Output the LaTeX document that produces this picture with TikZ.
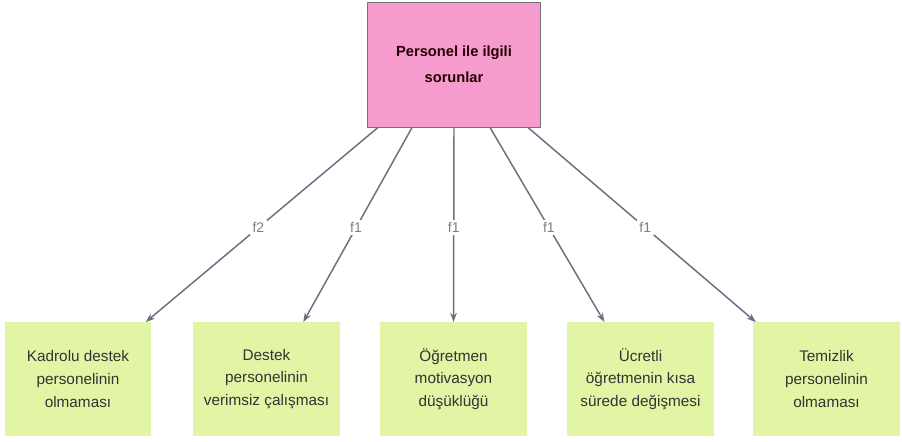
\documentclass[tikz,border=0pt]{standalone}
\usepackage{fontspec}
\setmainfont{Liberation Sans}
\usetikzlibrary{arrows.meta,calc}
\definecolor{pembe}{RGB}{245,155,205}
\definecolor{yesil}{RGB}{225,245,165}
\definecolor{okrengi}{RGB}{105,112,128}

\begin{document}
\begin{tikzpicture}[x=0.75pt,y=-0.75pt,
    anakutu/.style={draw=black!55, fill=pembe, minimum width=130pt, minimum height=94pt,
        align=center, text=black!85!red, font=\fontsize{11}{19.5}\selectfont\bfseries},
    altkutu/.style={fill=yesil, minimum width=110pt, minimum height=85pt,
        align=center, text=black!80, font=\fontsize{11.5}{17}\selectfont},
    etiket/.style={fill=white, text=black!50, inner sep=2pt, font=\fontsize{10.5}{12}\selectfont},
    okcizgi/.style={draw=okrengi, line width=1.1pt, -{Stealth[length=7pt,width=5pt]}}]
        \useasboundingbox (0,0) rectangle (902,442);

        % Ana kutu
        \node[anakutu] (ana) at (454,64.5) {Personel ile ilgili\\sorunlar};

        % Alt kutular
        \node[altkutu] (k1) at (78,379) {Kadrolu destek\\personelinin\\olmaması};
        \node[altkutu] (k2) at (266.5,379) {Destek\\personelinin\\verimsiz çalışması};
        \node[altkutu] (k3) at (453.5,379) {Öğretmen\\motivasyon\\düşüklüğü};
        \node[altkutu] (k4) at (640.5,379) {Ücretli\\öğretmenin kısa\\sürede değişmesi};
        \node[altkutu] (k5) at (826.5,379) {Temizlik\\personelinin\\olmaması};

        % Oklar
        \foreach \i/\a/\b/\f in {1/0.063/0.96/f2, 2/0.259/0.75/f1, 3/0.5/0.5/f1,
                                 4/0.707/0.255/f1, 5/0.925/0.02/f1}
            \draw[okcizgi] ($(ana.south west)!\a!(ana.south east)$)
                -- node[etiket, pos=0.515] (e\i) {\f}
                ($(k\i.north west)!\b!(k\i.north east)$);
    \end{tikzpicture}
\end{document}
